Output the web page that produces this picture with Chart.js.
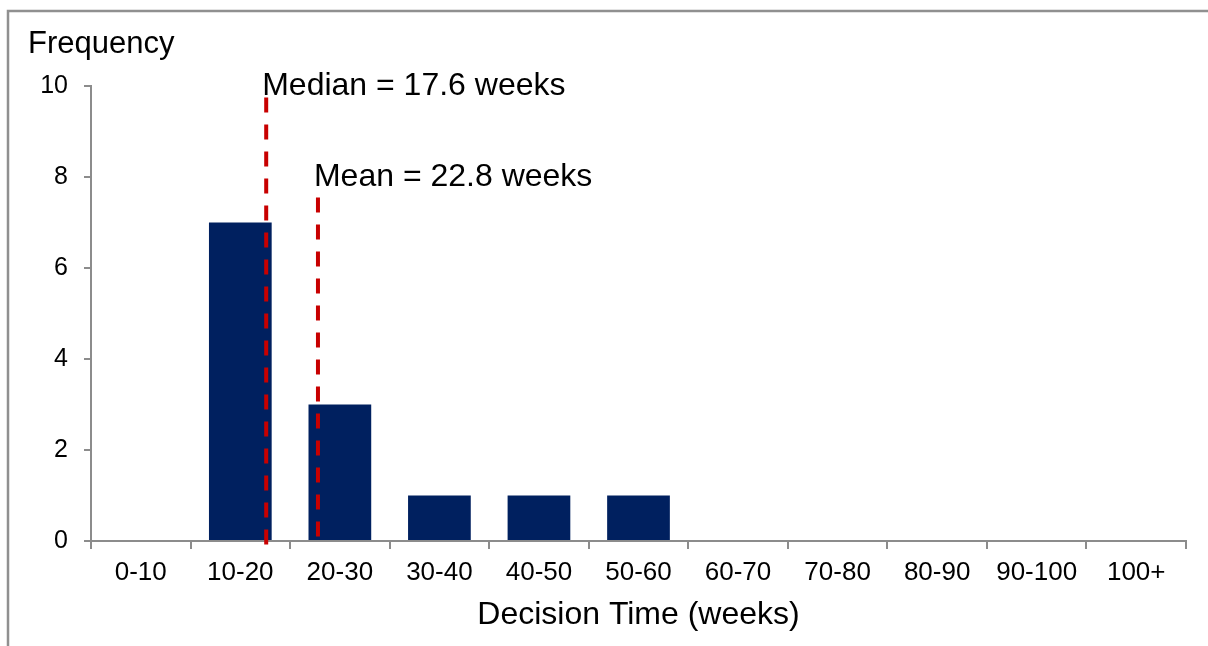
<!DOCTYPE html>
<html>
<head>
<meta charset="utf-8">
<style>
  html, body { margin: 0; padding: 0; background: #fff; }
  canvas { display: block; }
</style>
</head>
<body>
<canvas id="hist" width="1208" height="646"></canvas>

<script src="https://cdn.jsdelivr.net/npm/chart.js"></script>

<script>
  // decision time histogram, 10-week bins
  const bins = ['0-10', '10-20', '20-30', '30-40', '40-50', '50-60', '60-70', '70-80', '80-90', '90-100', '100+']
  const frequency = [0, 7, 3, 1, 1, 1, 0, 0, 0, 0, 0]
  const yTicks = [0, 2, 4, 6, 8, 10]

  // summary markers (weeks) and how tall their dashed lines run
  const markerNames = ['Median', 'Mean']
  const markerWeeks = [17.6, 22.8]
  const markerTops = [9.75, 7.55]
  const markerBottoms = [-0.15, 0]
  const markerLabelAt = [10, 8]

  const FONT = "'Liberation Sans', Arial, sans-serif"
  const AXIS_GREY = '#8c8c8c'
  const binWidth = 10

  // weeks -> fractional category index (bin i is centred on index i)
  const weeksToIndex = w => w / binWidth - 0.5

  const markerSets = markerWeeks.map((w, i) => ({
    type: 'line',
    label: markerNames[i],
    parsing: false,
    order: -1,
    data: [{x: weeksToIndex(w), y: markerTops[i]}, {x: weeksToIndex(w), y: markerBottoms[i]}],
    borderColor: '#c80000',
    borderWidth: 4,
    borderDash: [15, 12],
    pointRadius: 0,
    clip: false,
  }))

  // outer frame + free text (axis caption, marker labels)
  const decor = {
    id: 'decor',
    beforeDraw(chart) {
      const c = chart.ctx
      c.save()
      c.fillStyle = '#fff'
      c.fillRect(0, 0, chart.width, chart.height)
      c.strokeStyle = '#909090'
      c.lineWidth = 2.5
      c.beginPath()
      c.moveTo(8, chart.height)
      c.lineTo(8, 11)
      c.lineTo(chart.width, 11)
      c.stroke()
      c.restore()
    },
    afterDatasetsDraw(chart) {
      const c = chart.ctx
      const x = chart.scales.x
      const y = chart.scales.y
      c.save()
      c.fillStyle = '#000'
      c.font = `31px ${FONT}`
      c.textBaseline = 'middle'
      c.textAlign = 'left'
      c.fillText('Frequency', 28, 44)
      c.font = `32px ${FONT}`
      markerWeeks.forEach((w, i) => {
        const px = x.getPixelForValue(weeksToIndex(w)) - 4
        const py = y.getPixelForValue(markerLabelAt[i])
        c.fillText(`${markerNames[i]} = ${w} weeks`, px, py)
      })
      c.restore()
    }
  }

  let ctx = document.getElementById('hist').getContext('2d')

  const chart = new Chart(ctx, {
    type: 'bar',
    data: {
      labels: bins,
      datasets: [{
        label: 'Frequency',
        data: frequency,
        backgroundColor: '#00205f',
        borderWidth: 0,
        barPercentage: 1,
        categoryPercentage: 0.63,
      }, ...markerSets]
    },
    options: {
      responsive: false,
      animation: false,
      layout: { padding: { left: 0, top: 86, right: 22, bottom: 0 } },
      plugins: {
        legend: { display: false },
        tooltip: { enabled: false },
      },
      scales: {
        x: {
          type: 'category',
          afterFit: s => { s.height = 105 },
          grid: {
            offset: true,
            drawOnChartArea: false,
            drawTicks: true,
            tickLength: 8,
            color: AXIS_GREY,
            lineWidth: 2,
          },
          border: { color: AXIS_GREY, width: 2 },
          ticks: {
            autoSkip: false,
            maxRotation: 0,
            padding: 8,
            color: '#000',
            font: { family: FONT, size: 26 },
          },
          title: {
            display: true,
            text: 'Decision Time (weeks)',
            color: '#000',
            font: { family: FONT, size: 32 },
            padding: { top: 4, bottom: 12 },
          },
        },
        y: {
          min: 0,
          max: 10,
          afterFit: s => { s.width = 91 },
          afterBuildTicks: s => { s.ticks = yTicks.map(v => ({value: v})) },
          grid: {
            drawOnChartArea: false,
            drawTicks: true,
            tickLength: 7,
            color: AXIS_GREY,
            lineWidth: 2,
          },
          border: { color: AXIS_GREY, width: 2 },
          ticks: {
            padding: 16,
            color: '#000',
            font: { family: FONT, size: 25 },
          },
        },
      },
    },
    plugins: [decor],
  })
</script>
</body>
</html>
